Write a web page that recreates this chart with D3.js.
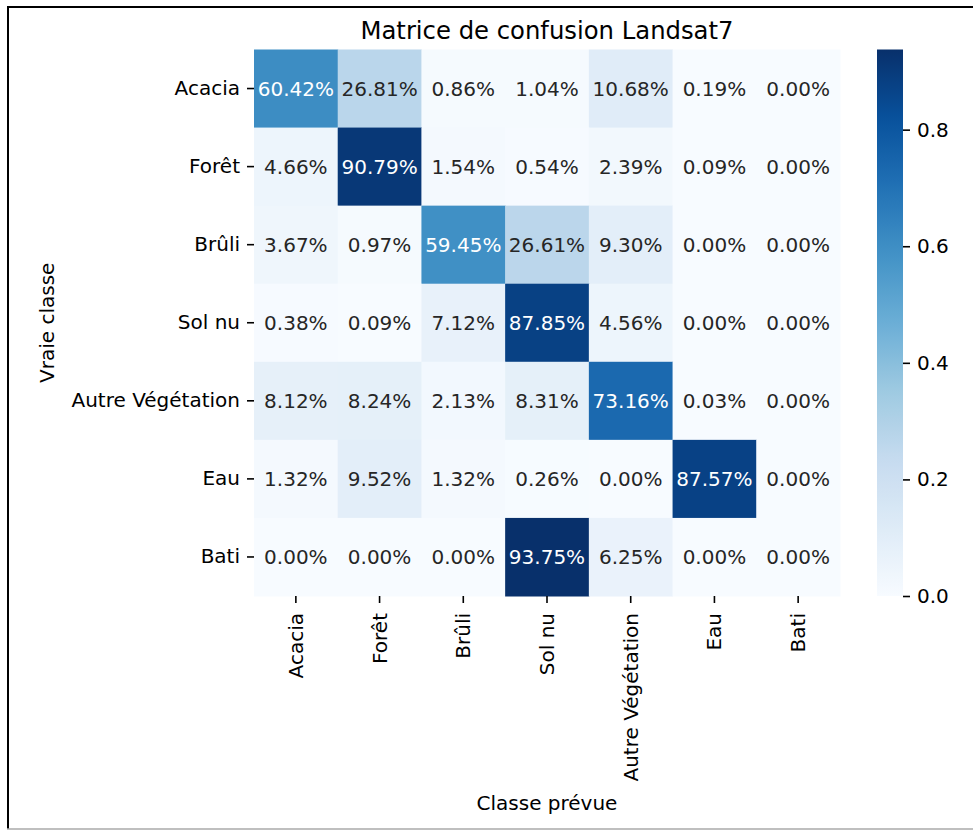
<!DOCTYPE html>
<html>
<head>
<meta charset="utf-8">
<script src="https://cdn.jsdelivr.net/npm/d3@7"></script>
<style>
    body { margin: 0; background: #fff; }
    svg { display: block; font-family: "DejaVu Sans", sans-serif; }
</style>
</head>
<body>
<svg id="chart" width="973" height="830"></svg>
<script>
const classes = ["Acacia", "Forêt", "Brûli", "Sol nu", "Autre Végétation", "Eau", "Bati"];

// percentages, rows = vraie classe, columns = classe prévue
const acacia = [60.42, 26.81, 0.86, 1.04, 10.68, 0.19, 0.00];
const foret = [4.66, 90.79, 1.54, 0.54, 2.39, 0.09, 0.00];
const bruli = [3.67, 0.97, 59.45, 26.61, 9.30, 0.00, 0.00];
const solNu = [0.38, 0.09, 7.12, 87.85, 4.56, 0.00, 0.00];
const autreVeg = [8.12, 8.24, 2.13, 8.31, 73.16, 0.03, 0.00];
const eau = [1.32, 9.52, 1.32, 0.26, 0.00, 87.57, 0.00];
const bati = [0.00, 0.00, 0.00, 93.75, 6.25, 0.00, 0.00];

const colorbarTicks = [0, 0.2, 0.4, 0.6, 0.8];

const rows = [acacia, foret, bruli, solNu, autreVeg, eau, bati];

const model = {
    heat: { left: 254, right: 840, top: 49.5, bottom: 596 },
    bar: { left: 877, width: 26 },
    font: 20,
    family: "DejaVu Sans",
    tick: 7
};

// matplotlib "Blues" is a linear ramp through the 9 brewer colours
const blues = ["#f7fbff", "#deebf7", "#c6dbef", "#9ecae1", "#6baed6",
    "#4292c6", "#2171b5", "#08519c", "#08306b"];
const ramp = d3.piecewise(d3.interpolateRgb, blues);

const cells = rows.flatMap((r, i) => r.map((v, j) => ({ row: classes[i], col: classes[j], value: v / 100 })));
const vmax = d3.max(cells, d => d.value);
const color = v => ramp(v / vmax);

const svg = d3.select("#chart");

addFrame();
addHeatmap();
addColorbar();
addLabels();

function addFrame() {
    svg.append("line").attr("x1", 8).attr("x2", 8).attr("y1", 6).attr("y2", 829)
        .attr("stroke", "#000").attr("stroke-width", 2);
    svg.append("line").attr("x1", 7).attr("x2", 973).attr("y1", 7).attr("y2", 7)
        .attr("stroke", "#000").attr("stroke-width", 2);
    svg.append("line").attr("x1", 7).attr("x2", 973).attr("y1", 829).attr("y2", 829)
        .attr("stroke", "#aaa").attr("stroke-width", 1.5);
}

function luminance(c) {
    const rgb = d3.rgb(c);
    const lin = [rgb.r, rgb.g, rgb.b].map(x => {
        x /= 255;
        return x <= 0.03928 ? x / 12.92 : Math.pow((x + 0.055) / 1.055, 2.4);
    });
    return 0.2126 * lin[0] + 0.7152 * lin[1] + 0.0722 * lin[2];
}

function styleAxis(g) {
    g.attr("font-family", model.family).attr("font-size", model.font);
    g.select(".domain").remove();
    g.selectAll(".tick line").attr("stroke", "#000").attr("stroke-width", 1.6);
    g.selectAll(".tick text").attr("fill", "#000");
}

function addHeatmap() {
    const { heat } = model;
    const x = d3.scaleBand().domain(classes).range([heat.left, heat.right]);
    const y = d3.scaleBand().domain(classes).range([heat.top, heat.bottom]);

    svg.append("g").selectAll("rect")
        .data(cells)
        .join("rect")
        .attr("x", d => x(d.col))
        .attr("y", d => y(d.row))
        .attr("width", x.bandwidth() + 0.5)
        .attr("height", y.bandwidth() + 0.5)
        .attr("fill", d => color(d.value));

    svg.append("g").selectAll("text")
        .data(cells)
        .join("text")
        .attr("x", d => x(d.col) + x.bandwidth() / 2)
        .attr("y", d => y(d.row) + y.bandwidth() / 2)
        .attr("text-anchor", "middle")
        .attr("dominant-baseline", "central")
        .attr("font-size", model.font)
        .attr("fill", d => luminance(color(d.value)) > 0.408 ? "#262626" : "#fff")
        .text(d => (d.value * 100).toFixed(2) + "%");

    const xAxis = d3.axisBottom(x).tickSize(model.tick).tickPadding(7);
    const gx = svg.append("g")
        .attr("transform", `translate(0,${ heat.bottom })`)
        .call(xAxis)
        .call(styleAxis);
    gx.selectAll(".tick text")
        .attr("transform", "rotate(-90)")
        .attr("text-anchor", "end")
        .attr("x", -17)
        .attr("y", 0)
        .attr("dy", "0.35em");

    const yAxis = d3.axisLeft(y).tickSize(model.tick).tickPadding(7);
    svg.append("g")
        .attr("transform", `translate(${ heat.left },0)`)
        .call(yAxis)
        .call(styleAxis);
}

function addColorbar() {
    const { heat, bar } = model;
    const scale = d3.scaleLinear().domain([0, vmax]).range([heat.bottom, heat.top]);

    const grad = svg.append("defs").append("linearGradient")
        .attr("id", "cbar")
        .attr("x1", 0).attr("x2", 0).attr("y1", 1).attr("y2", 0);
    grad.selectAll("stop")
        .data(d3.range(0, 1.0001, 0.02))
        .join("stop")
        .attr("offset", d => d)
        .attr("stop-color", d => ramp(d));

    svg.append("rect")
        .attr("x", bar.left)
        .attr("y", heat.top)
        .attr("width", bar.width)
        .attr("height", heat.bottom - heat.top)
        .attr("fill", "url(#cbar)");

    const axis = d3.axisRight(scale).tickValues(colorbarTicks)
        .tickFormat(d3.format(".1f")).tickSize(model.tick).tickPadding(7);
    svg.append("g")
        .attr("transform", `translate(${ bar.left + bar.width },0)`)
        .call(axis)
        .call(styleAxis);
}

function addLabels() {
    const { heat } = model;
    const cx = (heat.left + heat.right) / 2;
    const cy = (heat.top + heat.bottom) / 2;

    svg.append("text")
        .attr("x", cx).attr("y", 39)
        .attr("text-anchor", "middle")
        .attr("font-size", 24.3)
        .attr("fill", "#000")
        .text("Matrice de confusion Landsat7");

    svg.append("text")
        .attr("x", cx).attr("y", 810)
        .attr("text-anchor", "middle")
        .attr("font-size", model.font)
        .attr("fill", "#000")
        .text("Classe prévue");

    svg.append("text")
        .attr("transform", `translate(54,${ cy }) rotate(-90)`)
        .attr("text-anchor", "middle")
        .attr("font-size", model.font)
        .attr("fill", "#000")
        .text("Vraie classe");
}
</script>
</body>
</html>
